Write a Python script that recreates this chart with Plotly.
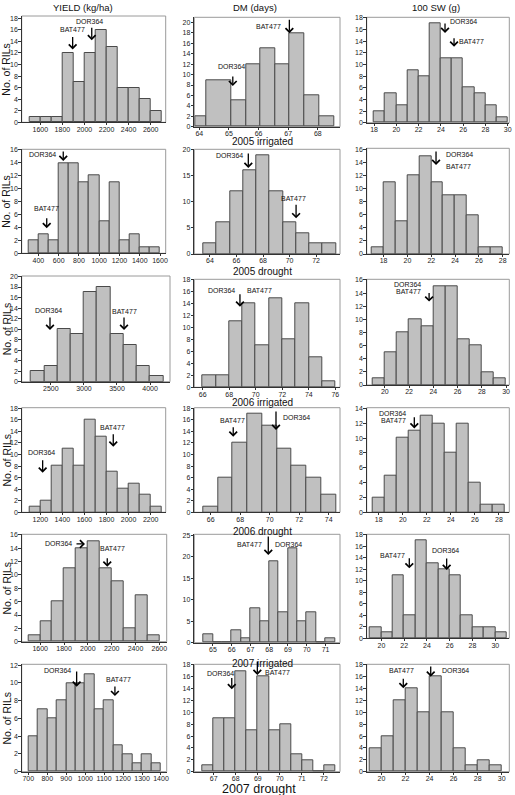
import plotly.graph_objects as go

W, H = 515, 795

# ---------------- data ----------------
seasons = ["2005 irrigated", "2005 drought", "2006 irrigated", "2006 drought", "2007 irrigated", "2007 drought"]
traits = ["YIELD (kg/ha)", "DM (days)", "100 SW (g)"]

# number of RILs per bin, one list per season
yield_counts = [
    [1, 1, 1, 12, 7, 12, 16, 13, 6, 6, 4, 2],
    [2, 3, 2, 14, 14, 11, 12, 5, 11, 2, 3, 1, 1],
    [2, 3, 10, 9, 17, 18, 9, 7, 3, 1],
    [1, 2, 8, 11, 8, 16, 13, 7, 4, 5, 3, 1],
    [1, 3, 6, 11, 14, 15, 11, 9, 2, 7, 1],
    [4, 7, 6, 8, 10, 10, 11, 7, 8, 3, 2, 1, 2, 1],
]
yield_bin_start = [1500, 300, 2200, 1100, 1500, 700]
yield_bin_width = [100, 100, 200, 100, 100, 50]

dm_counts = [
    [2, 9, 5, 12, 15, 12, 18, 6, 2],
    [2, 6, 12, 16, 19, 12, 6, 4, 2, 2],
    [2, 2, 11, 14, 7, 15, 8, 14, 5, 1],
    [1, 6, 12, 17, 15, 11, 8, 6, 3],
    [2, 0, 0, 3, 1, 8, 5, 19, 7, 22, 5, 7, 0, 1],
    [1, 9, 9, 17, 7, 16, 7, 8, 3, 2, 0, 1],
]
dm_bin_start = [None, 63.5, 66, 65.5, 64.5, 66.5]
dm_bin_width = [None, 1, 1, 1, 0.5, 0.5]
dm_2005_irrigated_edges = [63.85, 64.25, 65.09, 65.57, 66.05, 66.55, 67.05, 67.55, 68.05, 68.55]

sw_counts = [
    [2, 5, 3, 9, 8, 17, 11, 11, 6, 5, 3, 1],
    [1, 11, 5, 12, 15, 11, 9, 9, 6, 1, 1],
    [1, 5, 8, 10, 9, 15, 15, 7, 6, 2, 1],
    [2, 5, 10, 11, 13, 12, 8, 12, 4, 1, 1],
    [2, 1, 11, 4, 17, 13, 12, 11, 4, 2, 2, 1],
    [4, 6, 12, 14, 10, 16, 10, 4, 1, 2, 1],
]
sw_bin_start = [18, 17, 19, 17.5, 19, 19]
sw_bin_width = [1, 1, 1, 1, 1, 1]

# parental values (row-major: season x [yield, DM, SW])
BAT477 = [1893, 67.04, 25.18, 482, 70.49, 22.4, 3606, 68.81, 23.65,
          1861, 67.53, 20.96, 2163, 67.95, 22.45, 1157, 68.98, 21.82]
DOR364 = [2066, 65.13, 24.37, 645, 66.89, 22.4, 2487, 68.81, 23.65,
          1221, 70.43, 20.96, 1976, 67.95, 25.73, 955, 67.82, 24.1]

# tick labels
yield_xticks = [list(range(1600, 2601, 200)), list(range(400, 1601, 200)), list(range(2500, 4001, 500)),
                list(range(1200, 2201, 200)), list(range(1600, 2601, 200)), list(range(700, 1401, 100))]
dm_xticks = [list(range(64, 69)), list(range(64, 73, 2)), list(range(66, 77, 2)),
             list(range(66, 75, 2)), list(range(65, 72)), list(range(67, 73))]
sw_xticks = [list(range(18, 31, 2)), list(range(18, 29, 2)), list(range(20, 31, 2)),
             list(range(18, 29, 2)), list(range(20, 31, 2)), list(range(20, 31, 2))]
dm_ystep = [2, 5, 2, 2, 5, 2]

# ---------------- layout (pixels) ----------------
boxes = [
    [(21.7, 165.7, 16, 122.3), (194.3, 340, 17.3, 126.7), (366.7, 509.3, 17.3, 122.7)],
    [(21.7, 165.7, 149.3, 253.3), (194.3, 340, 149.3, 254), (366.7, 509.3, 148.3, 254)],
    [(21.7, 170, 276, 381.7), (194.3, 340, 279.3, 387.3), (366.7, 509.3, 279.3, 385)],
    [(21.7, 165.7, 407.7, 512.3), (194.3, 340, 407.7, 512.3), (366.7, 509.3, 407.7, 512.3)],
    [(21.7, 166.7, 534.3, 641.7), (194.3, 340, 534.3, 642.7), (366.7, 509.3, 534.3, 638.3)],
    [(21.7, 166.7, 664.3, 771.7), (194.3, 340, 664.3, 771.7), (366.7, 509.3, 664.3, 771.7)],
]
ymax = [[18.4, 21, 18.1], [16.1, 20.1, 16.2], [20.1, 18.1, 16.1],
        [18.1, 18.1, 14.1], [16.1, 25.2, 18.1], [12.1, 18.1, 18.1]]
xranges = [
    [(1431.1, 2736.3), (63.83, 68.75), (17.34, 30.14)],
    [(234.9, 1656.3), (62.82, 73.80), (16.58, 28.55)],
    [(2059.4, 4301.3), (65.37, 76.35), (18.50, 30.27)],
    [(1031.1, 2336.3), (64.89, 74.77), (17.0, 28.86)],
    [(1444.6, 2662.1), (64.01, 71.77), (18.71, 31.23)],
    [(665.2, 1430.1), (66.12, 72.73), (18.78, 30.63)],
]

# arrow groups per panel: (parents, tip y in counts, length px, [(label, side, dx, dy)])
arrows = {
    1: [(["BAT477"], 12.6, 14, [("BAT477", "c", 0, 20)]), (["DOR364"], 14.2, 14, [("DOR364", "c", -2, 18.3)])],
    2: [(["DOR364"], 7.8, 11, [("DOR364", "c", -1, 19.3)]), (["BAT477"], 17.96, 15, [("BAT477", "l", -6, 6.6)])],
    3: [(["DOR364"], 15.4, 11, [("DOR364", "r", 3, 11.3)]), (["BAT477"], 13.06, 10, [("BAT477", "r", 3, 5)])],
    4: [(["DOR364"], 14.3, 11, [("DOR364", "l", -5, 6)]), (["BAT477"], 3.87, 11.6, [("BAT477", "c", 0, 20)])],
    5: [(["DOR364"], 16.5, 16, [("DOR364", "l", -3, 13)]), (["BAT477"], 6.85, 15, [("BAT477", "c", -3, 20)])],
    6: [(["DOR364", "BAT477"], 13.65, 15, [("DOR364", "r", 8, 10), ("BAT477", "r", 8, -1.7)])],
    7: [(["DOR364"], 9.83, 14, [("DOR364", "c", -1, 20)]), (["BAT477"], 9.83, 14, [("BAT477", "c", 0, 18.3)])],
    8: [(["DOR364", "BAT477"], 13.5, 14, [("DOR364", "l", -3, 16.7), ("BAT477", "r", 5, 16.7)])],
    9: [(["DOR364", "BAT477"], 12.7, 10, [("DOR364", "l", -6, 16.7), ("BAT477", "l", -6, 10)])],
    10: [(["DOR364"], 6.85, 14, [("DOR364", "c", -1, 20.4)]), (["BAT477"], 11.35, 14, [("BAT477", "c", -1, 19.4)])],
    11: [(["BAT477"], 13.08, 11, [("BAT477", "c", -1, 16.7)]), (["DOR364"], 14.24, 20, [("DOR364", "r", 5, 12.3)])],
    12: [(["DOR364", "BAT477"], 11.3, 12.6, [("DOR364", "l", -6, 15), ("BAT477", "l", -6, 8.3)])],
    13: [(["DOR364"], 14.65, "h", [("DOR364", "l", -11, 0)]), (["BAT477"], 11.24, 10, [("BAT477", "c", 5, 18.4)])],
    14: [(["BAT477", "DOR364"], 20.4, 20, [("BAT477", "l", -4, 10), ("DOR364", "r", 5, 10)])],
    15: [(["BAT477"], 12.17, 11.6, [("BAT477", "l", -2, 13.3)]), (["DOR364"], 11.88, 13, [("DOR364", "c", -1, 20)])],
    16: [(["DOR364"], 9.57, 16.7, [("DOR364", "l", -4, 16.7)]), (["BAT477"], 8.52, 11, [("BAT477", "c", 4, 16.7)])],
    17: [(["DOR364"], 13.9, 12.6, [("DOR364", "l", 4, 15.3)]), (["BAT477"], 16.3, 15, [("BAT477", "r", 6, 2.5)])],
    18: [(["BAT477"], 14.06, 11, [("BAT477", "c", -2, 17.6)]), (["DOR364"], 16.0, 11.7, [("DOR364", "r", 9, 6)])],
}
season_label_y = [142, 271.5, 402.5, 531.5, 663, 788.5]

FONT = "Liberation Sans, Arial, sans-serif"
BAR_FILL = "#c0c0c0"
BAR_LINE = "#4a4a4a"
AXIS_COL = "#333333"
FRAME_COL = "#9a9a9a"

fig = go.Figure()
layout = dict(width=W, height=H, margin=dict(l=0, r=0, t=0, b=0, autoexpand=False), autosize=False,
              template="none",
              paper_bgcolor="white", plot_bgcolor="white", showlegend=False,
              font=dict(family=FONT, color="#111"), bargap=0)
shapes, annotations = [], []


def ref(k, axis):
    return axis if k == 1 else f"{axis}{k}"


for r in range(6):
    panels = [
        (yield_counts[r], yield_bin_start[r], yield_bin_width[r], None, yield_xticks[r], 2),
        (dm_counts[r], dm_bin_start[r], dm_bin_width[r], dm_2005_irrigated_edges if r == 0 else None,
         dm_xticks[r], dm_ystep[r]),
        (sw_counts[r], sw_bin_start[r], sw_bin_width[r], None, sw_xticks[r], 2),
    ]
    for c in range(3):
        k = r * 3 + c + 1
        counts, start, width, edges, xt, ystep = panels[c]
        if edges is None:
            edges = [start + i * width for i in range(len(counts) + 1)]
        centers = [(edges[i] + edges[i + 1]) / 2 for i in range(len(counts))]
        widths = [edges[i + 1] - edges[i] for i in range(len(counts))]
        fig.add_trace(go.Bar(x=centers, y=counts, width=widths, xaxis=ref(k, "x"), yaxis=ref(k, "y"),
                             marker=dict(color=BAR_FILL, line=dict(color=BAR_LINE, width=1)),
                             hoverinfo="x+y"))
        L, R, T, B = boxes[r][c]
        xa = dict(domain=[L / W, R / W], range=list(xranges[r][c]), anchor=ref(k, "y"),
                  tickmode="array", tickvals=xt, ticktext=[str(v) for v in xt],
                  ticks="outside", ticklen=2, tickwidth=1, tickcolor=AXIS_COL, automargin=False,
                  ticklabelstandoff=-2,
                  showline=True, linecolor=AXIS_COL, linewidth=1, showgrid=False, zeroline=False,
                  tickfont=dict(size=7, family=FONT, color="#222"), fixedrange=True)
        ya = dict(domain=[1 - B / H, 1 - T / H], range=[0, ymax[r][c]], anchor=ref(k, "x"),
                  tickmode="linear", tick0=0, dtick=ystep, automargin=False,
                  ticks="outside", ticklen=2.5, tickwidth=1, tickcolor=AXIS_COL,
                  ticklabelstandoff=-1,
                  showline=True, linecolor=AXIS_COL, linewidth=1, showgrid=False, zeroline=False,
                  tickfont=dict(size=7, family=FONT, color="#222"), fixedrange=True)
        layout["xaxis" if k == 1 else f"xaxis{k}"] = xa
        layout["yaxis" if k == 1 else f"yaxis{k}"] = ya
        shapes.append(dict(type="rect", xref=f"{ref(k, 'x')} domain", yref=f"{ref(k, 'y')} domain",
                           x0=0, x1=1, y0=0, y1=1, line=dict(color=FRAME_COL, width=1), layer="below"))

        for parents, ytip, length, labels in arrows[k]:
            p = parents[0]
            xval = (BAT477 if p == "BAT477" else DOR364)[k - 1]
            if length == "h":
                axp, ayp = -10, 0
            else:
                axp, ayp = 0, -length
            annotations.append(dict(xref=ref(k, "x"), yref=ref(k, "y"), x=xval, y=ytip, ax=axp, ay=ayp,
                                    text="", showarrow=True, arrowhead=4, arrowsize=1.15, arrowwidth=1.3,
                                    arrowcolor="black", standoff=0, startstandoff=0))
            for text, side, dx, dy in labels:
                xanchor = {"c": "center", "l": "right", "r": "left"}[side]
                annotations.append(dict(xref=ref(k, "x"), yref=ref(k, "y"), x=xval, y=ytip,
                                        text=text, showarrow=False, xanchor=xanchor, yanchor="middle",
                                        xshift=dx, yshift=dy, font=dict(size=7, family=FONT, color="#111")))

    # y-axis title per row
    L, R, T, B = boxes[r][0]
    annotations.append(dict(xref="paper", yref="paper", x=6.5 / W, y=1 - (T + B) / 2 / H,
                            text="No. of RILs", textangle=-90, showarrow=False,
                            xanchor="center", yanchor="middle", font=dict(size=10.5, family=FONT)))
    # season label
    annotations.append(dict(xref="paper", yref="paper", x=(259 if r == 5 else 262) / W,
                            y=1 - season_label_y[r] / H, text=seasons[r], showarrow=False,
                            xanchor="center", yanchor="middle",
                            font=dict(size=12.5 if r == 5 else 10, family=FONT)))

# column titles
for c, (cx, t) in enumerate(zip([82.5, 255, 436], traits)):
    annotations.append(dict(xref="paper", yref="paper", x=cx / W, y=1 - 7.5 / H, text=t,
                            showarrow=False, xanchor="center", yanchor="middle",
                            font=dict(size=9.5, family=FONT)))

layout["shapes"] = shapes
layout["annotations"] = annotations
fig.update_layout(**layout)
fig.write_html("out.html", config={"displayModeBar": False, "staticPlot": False},
               post_script="document.body.style.margin='0';document.body.style.padding='0';"
                           "document.body.style.overflow='hidden';")
